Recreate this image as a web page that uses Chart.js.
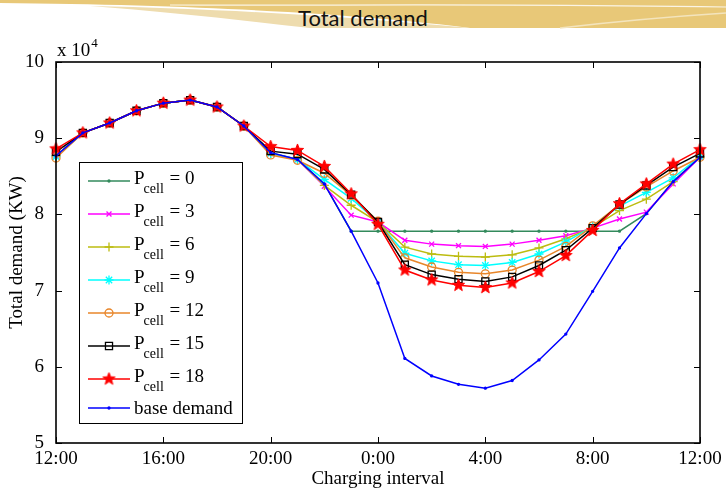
<!DOCTYPE html>
<html>
<head>
<meta charset="utf-8">
<script src="https://cdn.jsdelivr.net/npm/chart.js@4.4.1/dist/chart.umd.min.js"></script>
<style>
  html, body { margin: 0; padding: 0; background: #fff; }
  #wrap { position: relative; width: 726px; height: 490px; overflow: hidden; }
  #hdr { position: absolute; left: 0; top: 0; }
  #title { position: absolute; left: 0; top: 4px; width: 726px; text-align: center;
           font: 22px Lato, "Open Sans", sans-serif; color: #111; }
  #chart { position: absolute; left: 0; top: 0; }
</style>
</head>
<body>
<div id="wrap">
  <svg id="hdr" width="726" height="40">
    <path d="M0,0 H726 V28 H470 C380,16 220,5 0,3 Z" fill="#e8c878"/>
    <path d="M90,6 C220,9 330,15 470,28 H310 C240,20 170,12 90,6 Z" fill="#eedcae"/>
    <path d="M170,5 C320,6 460,3 726,7" stroke="#fff" stroke-width="1.2" fill="none" opacity="0.8"/>
    <path d="M560,28 C620,21 680,16 726,13" stroke="#f3e4bd" stroke-width="1.5" fill="none"/>
  </svg>
  <div id="title">Total demand</div>
  <canvas id="chart" width="726" height="490"></canvas>
</div>
<script>
// hours after 12:00, one point per hour
const hours = [0, 1, 2, 3, 4, 5, 6, 7, 8, 9, 10, 11, 12, 13, 14, 15, 16, 17, 18, 19, 20, 21, 22, 23, 24];
const xTickLabels = ["12:00", "16:00", "20:00", "0:00", "4:00", "8:00", "12:00"];

// demand in units of 10^4 KW
const baseDemand = [8.77, 9.07, 9.20, 9.36, 9.46, 9.50, 9.41, 9.16, 8.81, 8.72, 8.40, 7.78, 7.10, 6.11, 5.88, 5.77, 5.72, 5.82, 6.09, 6.43, 6.99, 7.56, 8.01, 8.43, 8.75];
const pcell0  = [8.77, 9.07, 9.20, 9.36, 9.46, 9.50, 9.41, 9.16, 8.81, 8.72, 8.40, 7.78, 7.78, 7.78, 7.78, 7.78, 7.78, 7.78, 7.78, 7.78, 7.78, 7.78, 8.01, 8.43, 8.75];
const pcell3  = [8.77, 9.07, 9.20, 9.36, 9.46, 9.50, 9.41, 9.16, 8.80, 8.72, 8.37, 7.99, 7.90, 7.66, 7.61, 7.59, 7.58, 7.61, 7.66, 7.72, 7.82, 7.94, 8.03, 8.40, 8.75];
const pcell6  = [8.77, 9.07, 9.20, 9.36, 9.46, 9.50, 9.41, 9.16, 8.80, 8.72, 8.38, 8.12, 7.90, 7.57, 7.48, 7.45, 7.44, 7.47, 7.56, 7.68, 7.83, 8.05, 8.20, 8.43, 8.76];
const pcell9  = [8.76, 9.07, 9.20, 9.36, 9.46, 9.50, 9.41, 9.16, 8.80, 8.72, 8.46, 8.21, 7.90, 7.49, 7.39, 7.34, 7.33, 7.37, 7.48, 7.64, 7.84, 8.11, 8.29, 8.48, 8.76];
const pcell12 = [8.74, 9.07, 9.20, 9.36, 9.46, 9.50, 9.41, 9.16, 8.78, 8.71, 8.54, 8.25, 7.91, 7.43, 7.31, 7.24, 7.22, 7.27, 7.40, 7.58, 7.85, 8.13, 8.36, 8.57, 8.75];
const pcell15 = [8.82, 9.07, 9.20, 9.36, 9.46, 9.50, 9.41, 9.16, 8.83, 8.79, 8.59, 8.26, 7.90, 7.34, 7.21, 7.15, 7.12, 7.18, 7.33, 7.53, 7.82, 8.13, 8.38, 8.62, 8.80];
const pcell18 = [8.86, 9.07, 9.20, 9.36, 9.46, 9.50, 9.41, 9.16, 8.89, 8.84, 8.63, 8.27, 7.87, 7.27, 7.14, 7.07, 7.04, 7.10, 7.25, 7.46, 7.79, 8.14, 8.40, 8.66, 8.85];

const cellCounts = [0, 3, 6, 9, 12, 15, 18];

const serif = "'Liberation Serif', 'Times New Roman', serif";
Chart.defaults.font.family = serif;
Chart.defaults.font.size = 19;
Chart.defaults.color = "#000";

function makeStar(color, r) {
  const c = document.createElement("canvas");
  const s = Math.ceil(r * 2 + 2);
  c.width = s; c.height = s;
  const g = c.getContext("2d");
  g.beginPath();
  for (let k = 0; k < 10; k++) {
    const rr = k % 2 ? r * 0.42 : r;
    const a = -Math.PI / 2 + k * Math.PI / 5;
    g.lineTo(s / 2 + rr * Math.cos(a), s / 2 + rr * Math.sin(a));
  }
  g.closePath();
  g.fillStyle = color; g.fill();
  g.strokeStyle = color; g.lineWidth = 1; g.stroke();
  return c;
}

function series(label, data, color, style, radius, order, fill) {
  return {
    label: label,
    data: data,
    borderColor: color,
    backgroundColor: fill || "rgba(0,0,0,0)",
    pointBorderColor: color,
    pointBackgroundColor: fill || "rgba(0,0,0,0)",
    pointStyle: style,
    pointRadius: radius,
    pointBorderWidth: 1.3,
    borderWidth: 1.5,
    tension: 0,
    order: order,
    clip: 12
  };
}

const datasets = [
  series("P0", pcell0, "#338a5c", "circle", 1, 7, "#338a5c"),
  series("P3", pcell3, "#ff00ff", "crossRot", 3.5, 6),
  series("P6", pcell6, "#bcbc10", "cross", 4.5, 5),
  series("P9", pcell9, "#00ffff", "star", 4.5, 4),
  series("P12", pcell12, "#e8862a", "circle", 4, 3),
  series("P15", pcell15, "#000000", "rect", 5, 2),
  series("P18", pcell18, "#ff0000", makeStar("#ff0000", 6.5), 6.5, 1),
  series("base demand", baseDemand, "#0000ff", "circle", 1, 0, "#0000ff")
];

const framePlugin = {
  id: "frame",
  afterDatasetsDraw(chart) {
    const { ctx, chartArea: a, scales: { x, y } } = chart;
    ctx.save();
    ctx.strokeStyle = "#000";
    ctx.lineWidth = 1;
    ctx.beginPath();
    x.ticks.forEach(t => {
      const px = Math.round(x.getPixelForValue(t.value)) + 0.5;
      ctx.moveTo(px, a.bottom); ctx.lineTo(px, a.bottom - 6);
      ctx.moveTo(px, a.top); ctx.lineTo(px, a.top + 6);
    });
    y.ticks.forEach(t => {
      const py = Math.round(y.getPixelForValue(t.value)) + 0.5;
      ctx.moveTo(a.left, py); ctx.lineTo(a.left + 6, py);
      ctx.moveTo(a.right, py); ctx.lineTo(a.right - 6, py);
    });
    ctx.stroke();
    ctx.lineWidth = 1.6;
    ctx.strokeRect(a.left, a.top, a.right - a.left, a.bottom - a.top);

    // exponent label
    ctx.fillStyle = "#000";
    ctx.textBaseline = "alphabetic";
    ctx.textAlign = "left";
    ctx.font = "19px " + serif;
    ctx.fillText("x 10", a.left + 1, a.top - 6);
    const w = ctx.measureText("x 10").width;
    ctx.font = "13px " + serif;
    ctx.fillText("4", a.left + 1 + w + 1, a.top - 15);
    ctx.restore();
  }
};

const legendPlugin = {
  id: "matlabLegend",
  afterDraw(chart) {
    const { ctx } = chart;
    const bx = 79.5, by = 162.5, bw = 163, bh = 261;
    ctx.save();
    ctx.fillStyle = "#fff";
    ctx.fillRect(bx, by, bw, bh);
    ctx.strokeStyle = "#000";
    ctx.lineWidth = 1;
    ctx.strokeRect(bx, by, bw, bh);

    const rowsY = [181, 214, 247, 280, 313, 346, 379, 408];
    datasets.forEach((ds, i) => {
      const ly = rowsY[i];
      ctx.strokeStyle = ds.borderColor;
      ctx.lineWidth = ds.borderWidth;
      ctx.beginPath();
      ctx.moveTo(88, ly); ctx.lineTo(130, ly);
      ctx.stroke();
      ctx.fillStyle = ds.pointBackgroundColor;
      ctx.lineWidth = ds.pointBorderWidth;
      Chart.helpers.drawPoint(ctx, { pointStyle: ds.pointStyle, radius: ds.pointRadius, borderWidth: ds.pointBorderWidth, rotation: 0 }, 109, ly);

      ctx.fillStyle = "#000";
      ctx.textAlign = "left";
      ctx.textBaseline = "alphabetic";
      if (i < cellCounts.length) {
        ctx.font = "19px " + serif;
        ctx.fillText("P", 134, ly + 3);
        let xx = 134 + ctx.measureText("P").width;
        ctx.font = "14px " + serif;
        ctx.fillText("cell", xx - 1, ly + 12);
        xx += ctx.measureText("cell").width;
        ctx.font = "19px " + serif;
        ctx.fillText(" = " + cellCounts[i], xx, ly + 3);
      } else {
        ctx.font = "19px " + serif;
        ctx.fillText("base demand", 134, ly + 6);
      }
    });
    ctx.restore();
  }
};

new Chart(document.getElementById("chart"), {
  type: "line",
  data: { labels: hours, datasets: datasets },
  plugins: [framePlugin, legendPlugin],
  options: {
    responsive: false,
    animation: false,
    layout: { padding: { top: 62, right: 26, left: 0, bottom: 0 } },
    plugins: { legend: { display: false }, tooltip: { enabled: false } },
    scales: {
      x: {
        type: "linear",
        min: 0,
        max: 24,
        grid: { display: false },
        border: { display: false },
        ticks: {
          stepSize: 4,
          autoSkip: false,
          maxRotation: 0,
          padding: -3,
          color: "#000",
          font: { family: serif, size: 19 },
          callback: v => xTickLabels[v / 4]
        },
        title: { display: true, text: "Charging interval", color: "#000", padding: 0, font: { family: serif, size: 19 } },
        afterFit: s => { s.height = 47; }
      },
      y: {
        min: 5,
        max: 10,
        grid: { display: false },
        border: { display: false },
        ticks: { stepSize: 1, padding: 4, color: "#000", font: { family: serif, size: 19 } },
        title: { display: true, text: "Total demand (KW)", color: "#000", padding: 6, font: { family: serif, size: 19 } },
        afterFit: s => { s.width = 56; }
      }
    }
  }
});
</script>
</body>
</html>
